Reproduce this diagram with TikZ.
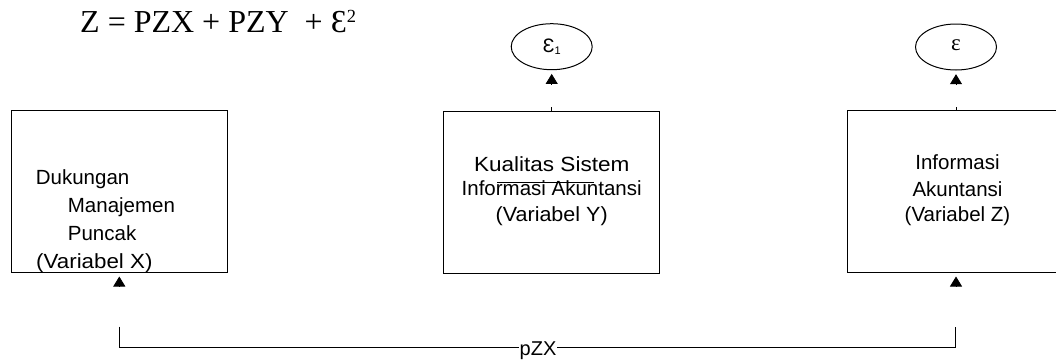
\documentclass[tikz,border=0pt]{standalone}
\usepackage{fontspec}
\setmainfont{Liberation Sans}
\newfontfamily\seriffont{Liberation Serif}
\usetikzlibrary{arrows.meta,calc}

\begin{document}
\begin{tikzpicture}[x=1pt,y=-1pt,
  box/.style={draw,line width=1pt,minimum height=162pt,inner sep=0pt},
  errslot/.style={minimum width=81pt,minimum height=46pt,inner sep=0pt},
  ring/.style={line width=1pt},
  txt/.style={font=\fontsize{20.5}{24}\selectfont,inner sep=0pt,anchor=base},
  txtl/.style={txt,anchor=base west},
  arr/.style={-{Triangle[length=10pt,width=12pt]},line width=0.8pt},
  wire/.style={line width=1pt}]
\useasboundingbox (0,0) rectangle (1056,360);
\clip (0,0) rectangle (1056,360);

% model equation
\node[inner sep=0pt,anchor=base west,font=\seriffont\fontsize{32}{32}\selectfont] (eq) at (80,32.3)
  {Z = PZX + PZY\ \ + Ɛ\raisebox{9.5pt}{\fontsize{18.5}{18.5}\selectfont 2}};

% variable boxes
\node[box,minimum width=216.6pt] (X) at (119.3,191.7) {};
\node[box,minimum width=216pt] (Y) at (551.7,192) {};
\node[box,minimum width=216.6pt] (Z) at (956,191.7) {};

% residual terms: label nodes framed by ellipses
\node[errslot,font=\fontsize{19.5}{20}\selectfont] (e1) at (551.7,46.7) {Ɛ\raisebox{-1.5pt}{\fontsize{11}{11}\selectfont 1}};
\node[errslot,font=\seriffont\fontsize{23}{23}\selectfont] (e2) at (956,47) {\raisebox{3pt}{ε}};
\draw[ring] (e1.center) ellipse [x radius=40.5, y radius=23];
\draw[ring] (e2.center) ellipse [x radius=40.5, y radius=23];

% box texts
\node[txtl] (x1) at (35.7,184.3) {Dukungan};
\node[txtl] (x2) at (67.7,212.7) {Manajemen};
\node[txtl] (x3) at (67.7,240) {Puncak};
\node[txtl] (x4) at (36,268.3) {\scalebox{1.09}[1]{(Variabel X)}};

\node[txt] (y1) at (551.7,171) {\scalebox{1.1}[1]{Kualitas Sistem}};
\node[txt] (y2) at (551.7,195.5) {Informasi Akuntansi};
\node[txt] (y3) at (551.7,221) {\scalebox{1.05}[1]{(Variabel Y)}};
\draw[line width=0.8pt] (497.3,182.7) -- (594,182.7);

\node[txt] (z1) at (957.5,169.3) {Informasi};
\node[txt] (z2) at (957.5,196) {Akuntansi};
\node[txt] (z3) at (957.5,221.7) {(Variabel Z)};

% arrows into the residual ellipses
\coordinate (t1) at ($(e1.south)+(0,15)$);
\coordinate (t2) at ($(e2.south)+(0,15)$);
\draw[arr,shorten >=4pt] (t1) -- (e1.south);
\draw[arr,shorten >=4pt] (t2) -- (e2.south);
\draw[wire] (Y.north) -- ++(0,-3.5);
\draw[wire] (Z.north) -- ++(0,-3.5);

% arrows under the X and Z boxes
\coordinate (bx) at ($(X.south)+(0,13.3)$);
\coordinate (bz) at ($(Z.south)+(0,13.3)$);
\draw[arr,shorten >=3.3pt] (bx) -- (X.south);
\draw[arr,shorten >=3.3pt] (bz) -- (Z.south);

% pZX bracket
\coordinate (lt) at (119.3,326.7);
\coordinate (lb) at (119.3,347);
\coordinate (rt) at (955.3,326.7);
\coordinate (rb) at (955.3,347);
\draw[wire] (lt) -- (lb) -- (rb) -- (rt);
\node[fill=white,inner xsep=1pt,inner ysep=0pt,anchor=base,font=\fontsize{20}{20}\selectfont] (p) at (538,355) {pZX};
\end{tikzpicture}
\end{document}
